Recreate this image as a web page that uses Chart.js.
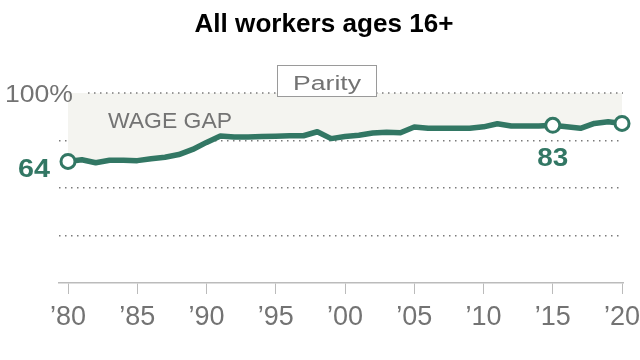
<!DOCTYPE html>
<html><head><meta charset="utf-8">
<script src="https://cdn.jsdelivr.net/npm/chart.js@4.4.1/dist/chart.umd.min.js"></script>
<style>html,body{margin:0;padding:0;background:#fff}#wrap{width:640px;height:360px}</style>
</head><body><div id="wrap"><canvas id="c" width="640" height="360"></canvas></div>
<script>
const chartTitle = 'All workers ages 16+';
const years = [1980,1981,1982,1983,1984,1985,1986,1987,1988,1989,1990,1991,1992,1993,1994,1995,1996,1997,1998,1999,2000,2001,2002,2003,2004,2005,2006,2007,2008,2009,2010,2011,2012,2013,2014,2015,2016,2017,2018,2019,2020];
const ratio = [64,64.9,63.3,64.6,64.6,64.4,65.4,66.2,67.6,70.3,74,77.4,76.8,76.9,77.1,77.3,77.5,77.5,79.6,76,77.1,77.8,78.9,79.4,79.1,82.1,81.4,81.4,81.5,81.4,82.2,83.8,82.6,82.6,82.6,83,82.2,81.4,84,84.9,84];
const markedYears = [1980,2015,2020];
const labelledYears = [1980,2015];
const tickYears = [1980,1985,1990,1995,2000,2005,2010,2015,2020];
const tickLabels = ['\u201980','\u201985','\u201990','\u201995','\u201900','\u201905','\u201910','\u201915','\u201920'];
const gridValues = [25,50,75,100];
const yTopLabel = '100%';
const parityLabel = 'Parity';
const gapLabel = 'WAGE GAP';

const green = '#327764';
const grayText = '#737373';
const dotColor = '#7a7a7a';
const FONT = '"Liberation Sans", Arial, sans-serif';

function fitText(ctx, text, x, y, font, color, w, align) {
  ctx.save();
  ctx.font = font; ctx.fillStyle = color; ctx.textBaseline = 'alphabetic';
  const m = ctx.measureText(text).width;
  const s = w ? w / m : 1;
  ctx.translate(x, y); ctx.scale(s, 1);
  ctx.textAlign = align || 'left';
  ctx.fillText(text, 0, 0);
  ctx.restore();
}

const annot = {
  id: 'annot',
  afterDraw(chart) {
    const ctx = chart.ctx, xs = chart.scales.x, ys = chart.scales.y, ca = chart.chartArea;
    const y100 = ys.getPixelForValue(100);
    // top dotted line at 100
    ctx.save();
    ctx.strokeStyle = dotColor; ctx.lineWidth = 1.5; ctx.setLineDash([1.5, 4.5]);
    ctx.beginPath(); ctx.moveTo(88, y100); ctx.lineTo(ca.right, y100); ctx.stroke();
    ctx.restore();
    // 100% label
    fitText(ctx, yTopLabel, 5, y100 + 9, '24px ' + FONT, grayText, 68, 'left');
    // Parity box
    ctx.save();
    ctx.fillStyle = '#ffffff'; ctx.fillRect(277, y100 - 28, 100, 32);
    ctx.strokeStyle = '#9a9a9a'; ctx.lineWidth = 1;
    ctx.strokeRect(277.5, y100 - 27.5, 99, 31);
    ctx.restore();
    fitText(ctx, parityLabel, 293, y100 - 3, '20px ' + FONT, grayText, 68, 'left');
    // wage gap
    fitText(ctx, gapLabel, 108, y100 + 35, '22px ' + FONT, grayText, 124, 'left');
    // value labels
    labelledYears.forEach(yr => {
      const i = years.indexOf(yr);
      const px = xs.getPixelForValue(yr), py = ys.getPixelForValue(ratio[i]);
      const txt = String(Math.round(ratio[i]));
      if (i === 0) fitText(ctx, txt, px - 18, py + 16, 'bold 25px ' + FONT, green, 32, 'right');
      else fitText(ctx, txt, px, py + 41, 'bold 25px ' + FONT, green, 31, 'center');
    });
    // title
    fitText(ctx, chartTitle, 324, 32, 'bold 26px ' + FONT, '#000', 259, 'center');
  }
};

new Chart(document.getElementById('c'), {
  type: 'line',
  data: {
    datasets: [{
      data: years.map((y, i) => ({x: y, y: ratio[i]})),
      borderColor: green,
      borderWidth: 5.5,
      borderJoinStyle: 'round',
      borderCapStyle: 'round',
      tension: 0,
      fill: {value: 100},
      backgroundColor: '#f4f4f0',
      pointRadius: c => markedYears.includes(years[c.dataIndex]) ? 7 : 0,
      pointBackgroundColor: '#fff',
      pointBorderColor: green,
      pointBorderWidth: 3,
      clip: false
    }]
  },
  options: {
    responsive: false, animation: false, devicePixelRatio: 1,
    layout: {padding: {left: 0, right: 17, top: 93, bottom: 0}},
    plugins: {legend: {display: false}, tooltip: {enabled: false}, title: {display: false}},
    scales: {
      x: {
        type: 'linear', min: 1979.35, max: 2020.07,
        afterBuildTicks: s => { s.ticks = tickYears.map(v => ({value: v})); },
        afterFit: s => { s.height = 77; s.paddingLeft = 0; s.paddingRight = 0; },
        ticks: {
          callback: v => tickLabels[tickYears.indexOf(v)],
          font: {size: 27, family: FONT}, color: grayText,
          padding: 7, autoSkip: false, maxRotation: 0, minRotation: 0
        },
        grid: {drawOnChartArea: false, drawTicks: true, tickLength: 11, color: '#bbb', lineWidth: 1},
        border: {color: '#bbb', width: 1.5}
      },
      y: {
        min: 0, max: 100,
        afterBuildTicks: s => { s.ticks = [0].concat(gridValues).map(v => ({value: v})); },
        afterFit: s => { s.width = 59; },
        ticks: {display: false},
        grid: {
          drawTicks: false, lineWidth: 1.5,
          color: c => (c.tick && gridValues.includes(c.tick.value) && c.tick.value !== 100) ? dotColor : 'rgba(0,0,0,0)'
        },
        border: {display: false, dash: [1.5, 4.5]}
      }
    }
  },
  plugins: [annot]
});
</script>
</body></html>
